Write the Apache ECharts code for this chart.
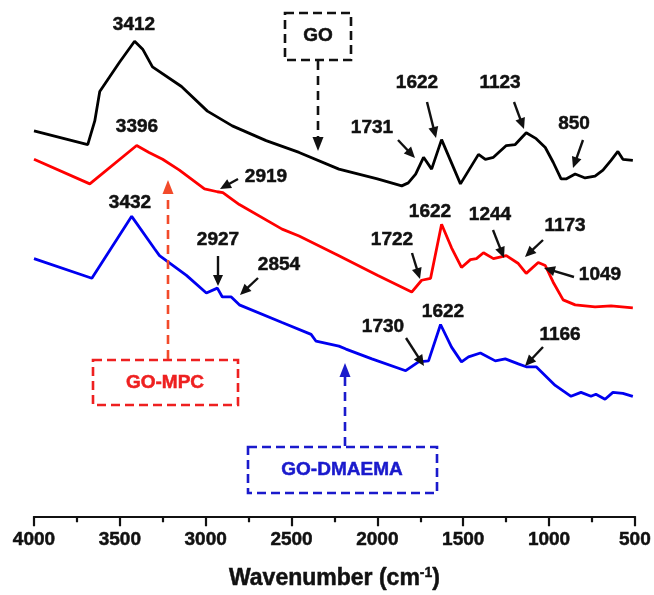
<!DOCTYPE html>
<html>
<head>
<meta charset="utf-8">
<script src="https://cdn.jsdelivr.net/npm/echarts@6/dist/echarts.min.js"></script>
<style>html,body{margin:0;padding:0;background:#fff}#c{width:654px;height:595px}</style>
</head>
<body>
<div id="c"></div>
<script>
// ---- data (arbitrary transmittance units) ----
var goWn  = [4000,3687,3646,3617,3559,3501,3414,3367,3310,3141,2990,2845,2648,2456,2224,2000,1858,1820,1777,1731,1684,1626,1516,1411,1371,1324,1249,1197,1133,1075,1022,976,930,901,848,790,732,686,639,599,570,512];
var goT   = [78.4,75.6,80.4,86.4,89.4,92.4,96.6,95.0,91.4,87.4,82.4,79.4,76.4,74.0,70.6,68.6,67.2,67.8,69.6,73.0,70.6,76.6,67.6,73.6,72.6,73.0,75.4,75.6,78.0,76.8,75.0,72.0,68.6,68.6,69.6,68.8,69.2,70.4,72.4,74.2,72.6,72.4];

var mpcWn = [4000,3675,3402,3330,3251,3153,3007,2932,2900,2804,2555,2456,2224,2000,1800,1742,1690,1626,1568,1510,1458,1423,1382,1324,1249,1179,1133,1063,1022,976,918,848,732,639,512];
var mpcT  = [72.6,67.6,75.4,74.0,72.6,70.4,66.6,66.0,65.8,63.4,58.4,57.0,53.0,49.0,45.6,48.0,48.4,59.4,54.6,50.6,52.2,52.4,53.6,52.4,53.0,51.4,49.4,51.6,51.0,47.6,44.0,43.0,42.6,42.8,42.4];

var dmWn  = [4000,3663,3431,3298,3269,3112,2996,2932,2903,2851,2804,2555,2386,2357,2224,2183,2032,1835,1760,1702,1632,1568,1510,1469,1400,1313,1255,1179,1133,1075,964,872,814,756,727,674,628,570,512];
var dmT   = [52.4,48.4,61.0,54.4,53.0,49.0,45.4,46.4,44.6,44.6,43.0,39.4,37.0,35.6,34.6,34.0,32.0,29.6,31.4,31.6,39.0,34.4,31.4,32.4,33.2,31.6,32.0,31.0,30.4,30.4,26.6,24.4,25.2,24.4,24.8,23.8,25.2,25.0,24.4];

var xTicks = [4000,3500,3000,2500,2000,1500,1000,500];

function pairs(w,t){ return w.map(function(v,i){ return [v,t[i]]; }); }

// ---- annotation layout (pixel placement) ----
var FAM = '"Liberation Sans", Arial, sans-serif';
var FONT = 'bold 19px ' + FAM;
var peakLabels = [
  {t:'3412',x:134,y:25},{t:'3396',x:137,y:127},{t:'3432',x:130,y:203},
  {t:'2919',x:266,y:177,a:[238,179,220,189]},
  {t:'2927',x:218,y:240,a:[218,256,218,286]},
  {t:'2854',x:279,y:265,a:[258,278,240,295]},
  {t:'1731',x:372,y:128,a:[398,140,415,158]},
  {t:'1622',x:417,y:83,a:[427,102,436,138]},
  {t:'1123',x:500,y:83,a:[514,102,524,129]},
  {t:'850',x:574,y:124,a:[583,140,573,168]},
  {t:'1622',x:430,y:212},
  {t:'1722',x:392,y:240,a:[412,253,420,279]},
  {t:'1244',x:490,y:215,a:[493,230,504,258]},
  {t:'1173',x:565,y:226,a:[543,240,525,257]},
  {t:'1049',x:600,y:275,a:[574,277,544,268]},
  {t:'1622',x:443,y:312},
  {t:'1730',x:383,y:327,a:[406,338,424,366]},
  {t:'1166',x:560,y:335,a:[543,347,525,366]}
];
var boxes = [
  {t:'GO',color:'#111111',arrowColor:'#111111',rect:[285,13,66,47],tx:318,ty:36,a:[318,61,318,151]},
  {t:'GO-MPC',color:'#ee2020',arrowColor:'#f24a2a',rect:[93,360,145,45],tx:165,ty:383,a:[168,359,168,180]},
  {t:'GO-DMAEMA',color:'#1a1acc',arrowColor:'#1a1acc',rect:[248,447,189,46],tx:342,ty:470,a:[345,446,345,363]}
];

function arrow(x1,y1,x2,y2,color,lw,hl,hw,dash){
  var dx=x2-x1, dy=y2-y1, L=Math.sqrt(dx*dx+dy*dy), ux=dx/L, uy=dy/L;
  var bx=x2-ux*hl, by=y2-uy*hl;
  var els=[];
  els.push({type:'line',shape:{x1:x1,y1:y1,x2:x2-ux*hl*0.6,y2:y2-uy*hl*0.6},
    style:{stroke:color,lineWidth:lw,lineDash:dash||null},z:10});
  els.push({type:'polygon',shape:{points:[[x2,y2],[bx-uy*hw/2,by+ux*hw/2],[bx+uy*hw/2,by-ux*hw/2]]},
    style:{fill:color},z:10});
  return els;
}

function label(txt,x,y,color){
  return {type:'text',x:x,y:y,z:10,style:{text:txt,font:FONT,fill:color,align:'center',verticalAlign:'middle',
    stroke:color,lineWidth:0.5}};
}

var graphics=[];
peakLabels.forEach(function(p){
  graphics.push(label(p.t,p.x,p.y,'#111'));
  if(p.a){ graphics=graphics.concat(arrow(p.a[0],p.a[1],p.a[2],p.a[3],'#111',2.4,11,10)); }
});
boxes.forEach(function(b){
  graphics.push({type:'rect',shape:{x:b.rect[0],y:b.rect[1],width:b.rect[2],height:b.rect[3]},
    style:{fill:'none',stroke:b.color,lineWidth:2.6,lineDash:[9,5]},z:10});
  graphics.push(label(b.t,b.tx,b.ty,b.color));
  graphics=graphics.concat(arrow(b.a[0],b.a[1],b.a[2],b.a[3],b.arrowColor,2.6,14,11,[9,6]));
});

var chart = echarts.init(document.getElementById('c'));
chart.setOption({
  animation:false,
  backgroundColor:'#fff',
  grid:{left:34,right:17,top:0,bottom:72},
  xAxis:{
    type:'value', inverse:true, min:500, max:4000, interval:500,
    axisLine:{show:true,lineStyle:{color:'#111',width:2.2}},
    axisTick:{show:true,length:10,lineStyle:{color:'#111',width:2.2}},
    minorTick:{show:true,splitNumber:2,length:6,lineStyle:{color:'#111',width:2.2}},
    splitLine:{show:false},
    axisLabel:{margin:14,color:'#111',fontSize:19,fontWeight:'bold',fontFamily:FAM,
      textBorderColor:'#111',textBorderWidth:0.5,
      formatter:function(v){ return xTicks.indexOf(v)>=0 ? String(v) : ''; }},
    name:'Wavenumber (cm{sup|-1})',
    nameLocation:'middle', nameGap:50,
    nameTextStyle:{color:'#111',fontSize:23,fontWeight:'bold',fontFamily:FAM,
      textBorderColor:'#111',textBorderWidth:0.5,
      rich:{sup:{fontSize:14,fontWeight:'bold',verticalAlign:'top',color:'#111',fontFamily:FAM,
        textBorderColor:'#111',textBorderWidth:0.4,padding:[0,0,10,0]}}}
  },
  yAxis:{type:'value',min:0,max:105,show:false,splitLine:{show:false}},
  series:[
    {name:'GO',type:'line',data:pairs(goWn,goT),showSymbol:false,symbol:'none',lineStyle:{color:'#000',width:2.8},z:3},
    {name:'GO-MPC',type:'line',data:pairs(mpcWn,mpcT),showSymbol:false,symbol:'none',lineStyle:{color:'#ff0000',width:2.8},z:3},
    {name:'GO-DMAEMA',type:'line',data:pairs(dmWn,dmT),showSymbol:false,symbol:'none',lineStyle:{color:'#0000f0',width:2.8},z:3}
  ],
  graphic:graphics
});
</script>
</body>
</html>
